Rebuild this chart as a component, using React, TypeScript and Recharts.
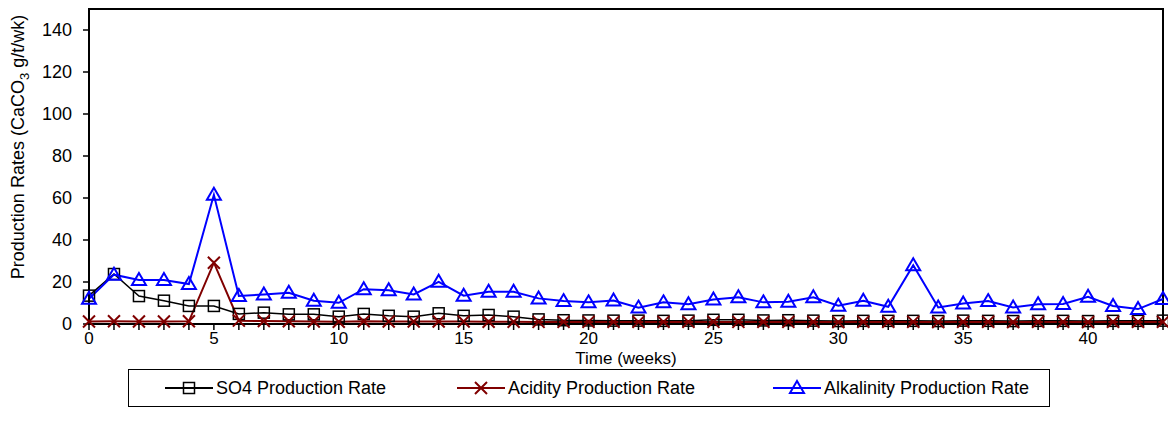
import React from "react";
import { LineChart, Line, XAxis, YAxis, Legend, ReferenceArea } from "recharts";

const weeks = [
  0, 1, 2, 3, 4, 5, 6, 7, 8, 9, 10, 11, 12, 13, 14, 15, 16, 17, 18, 19, 20, 21,
  22, 23, 24, 25, 26, 27, 28, 29, 30, 31, 32, 33, 34, 35, 36, 37, 38, 39, 40, 41,
  42, 43,
];

const so4Rate = [
  13.5, 23.8, 13.3, 11.1, 8.6, 8.6, 4.8, 5.4, 4.6, 4.6, 3.5, 4.8, 3.9, 3.5, 5.1,
  3.9, 4.3, 3.5, 2.2, 1.8, 1.7, 1.6, 1.6, 1.5, 1.6, 2.0, 2.0, 1.7, 1.8, 1.6, 1.4,
  1.5, 1.5, 1.5, 1.4, 1.6, 1.5, 1.4, 1.5, 1.5, 1.4, 1.5, 1.5, 1.6,
];

const acidityRate = [
  1.2, 1.3, 1.2, 1.2, 1.3, 29.2, 1.6, 1.4, 1.3, 1.2, 1.1, 1.3, 1.2, 1.2, 1.2, 1.2,
  1.1, 1.1, 1.0, 1.0, 1.0, 1.0, 1.0, 1.0, 1.0, 1.0, 1.0, 1.0, 1.0, 1.0, 0.9, 1.0,
  1.0, 1.0, 0.9, 1.0, 1.0, 0.9, 1.0, 1.0, 0.9, 1.0, 1.0, 1.0,
];

const alkalinityRate = [
  12, 23.5, 21, 21, 19, 61.5, 13.3, 14.1, 14.9, 11.1, 10.1, 16.6, 16.1, 14.1, 20.1,
  13.5, 15.4, 15.4, 12.2, 10.9, 10.3, 11.2, 7.8, 10.3, 9.4, 11.7, 12.7, 10.3, 10.6,
  12.7, 8.7, 11.1, 8.2, 28, 7.9, 9.8, 10.9, 7.9, 9.4, 9.5, 13, 8.6, 7.1, 11.9,
];

const yTicks = [0, 20, 40, 60, 80, 100, 120, 140];

const seriesNames = ["SO4 Production Rate", "Acidity Production Rate", "Alkalinity Production Rate"];
const seriesColors = ["#000000", "#800000", "#0000ff"];

const data = weeks.map((week, i) => ({
  week,
  so4: so4Rate[i],
  acidity: acidityRate[i],
  alkalinity: alkalinityRate[i],
}));

const font = "'Liberation Sans', Arial, sans-serif";

const Marker = ({ kind, cx, cy, color }: { kind: number; cx: number; cy: number; color: string }) => {
  if (cx == null || cy == null) return null;
  if (kind === 0)
    return <rect x={cx - 5.5} y={cy - 5.5} width={11} height={11} fill="none" stroke={color} strokeWidth={1.5} />;
  if (kind === 1)
    return (
      <path
        d={`M${cx - 6},${cy - 6}L${cx + 6},${cy + 6}M${cx - 6},${cy + 6}L${cx + 6},${cy - 6}`}
        stroke={color}
        strokeWidth={2}
        fill="none"
      />
    );
  return (
    <path
      d={`M${cx},${cy - 7}L${cx + 7},${cy + 5}L${cx - 7},${cy + 5}Z`}
      stroke={color}
      strokeWidth={2}
      fill="none"
    />
  );
};

const dotFor = (kind: number) => (p: any) =>
  <Marker key={`m-${kind}-${p.index}`} kind={kind} cx={p.cx} cy={p.cy} color={seriesColors[kind]} />;

// widths of each legend slot, so the entries start where the reference puts them
const legendSlots = [292, 316, 270];

const LegendBox = () => (
  <div
    style={{
      width: 922,
      height: 38,
      border: "1px solid #000",
      boxSizing: "border-box",
      display: "flex",
      alignItems: "center",
      paddingLeft: 36,
      fontFamily: font,
      fontSize: 18,
      color: "#000",
    }}
  >
    {seriesNames.map((name, i) => (
      <div key={name} style={{ display: "flex", alignItems: "center", width: legendSlots[i], whiteSpace: "nowrap" }}>
        <svg width={48} height={20} style={{ marginRight: 3, flex: "none" }}>
          <line x1={0} y1={10} x2={48} y2={10} stroke={seriesColors[i]} strokeWidth={2} />
          <Marker kind={i} cx={24} cy={10} color={seriesColors[i]} />
        </svg>
        <span>{name}</span>
      </div>
    ))}
  </div>
);

const YLabel = () => (
  <text
    transform="rotate(-90)"
    x={-147}
    y={24}
    textAnchor="middle"
    fontFamily={font}
    fontSize={18}
    fill="#000"
  >
    Production Rates (CaCO
    <tspan dy={5} fontSize={13}>3</tspan>
    <tspan dy={-5}> g/t/wk)</tspan>
  </text>
);

export default function App() {
  return (
    <div style={{ position: "absolute", left: 0, top: 0, width: 1168, height: 431, background: "#fff" }}>
      <LineChart
        width={1168}
        height={431}
        data={data}
        margin={{ top: 9, right: 5, bottom: 77, left: 0 }}
        style={{ fontFamily: font }}
      >
        <ReferenceArea x1={0} x2={43} y1={0} y2={150} fill="none" stroke="#000" strokeWidth={2} />
        <XAxis
          dataKey="week"
          type="number"
          domain={[0, 43]}
          ticks={weeks}
          interval={0}
          height={30}
          tickSize={6}
          tickMargin={2}
          tickFormatter={(v: number) => (v % 5 === 0 ? String(v) : "")}
          tick={{ fill: "#000", fontSize: 17, fontFamily: font }}
          axisLine={{ stroke: "#000", strokeWidth: 2 }}
          tickLine={{ stroke: "#000", strokeWidth: 1.5 }}
          label={{ value: "Time (weeks)", position: "bottom", offset: -2, fill: "#000", fontSize: 17, fontFamily: font }}
        />
        <YAxis
          type="number"
          domain={[0, 150]}
          ticks={yTicks}
          interval={0}
          width={89}
          tickSize={6}
          tickMargin={11}
          tick={{ fill: "#000", fontSize: 18, fontFamily: font }}
          axisLine={{ stroke: "#000", strokeWidth: 2 }}
          tickLine={{ stroke: "#000", strokeWidth: 1.5 }}
          label={YLabel}
        />
        <Line
          dataKey="so4"
          name={seriesNames[0]}
          type="linear"
          stroke={seriesColors[0]}
          strokeWidth={1.5}
          dot={dotFor(0)}
          activeDot={false}
          isAnimationActive={false}
        />
        <Line
          dataKey="acidity"
          name={seriesNames[1]}
          type="linear"
          stroke={seriesColors[1]}
          strokeWidth={2}
          dot={dotFor(1)}
          activeDot={false}
          isAnimationActive={false}
        />
        <Line
          dataKey="alkalinity"
          name={seriesNames[2]}
          type="linear"
          stroke={seriesColors[2]}
          strokeWidth={2}
          dot={dotFor(2)}
          activeDot={false}
          isAnimationActive={false}
        />
        <Legend
          layout="horizontal"
          verticalAlign="middle"
          align="center"
          content={<LegendBox />}
          wrapperStyle={{ left: 128, top: 369, width: 922, height: 38 }}
        />
      </LineChart>
    </div>
  );
}
